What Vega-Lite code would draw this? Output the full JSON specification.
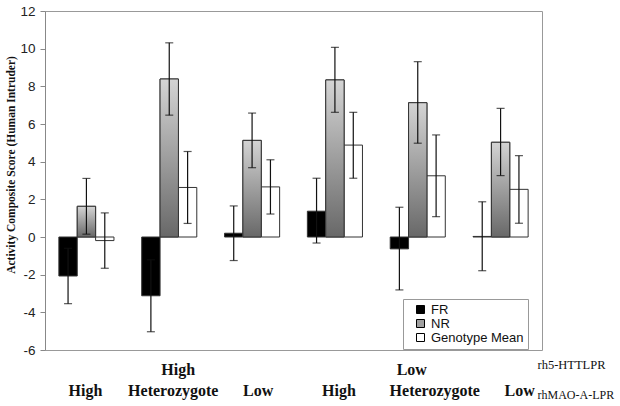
{
  "$schema": "https://vega.github.io/schema/vega-lite/v6.json",
  "width": 497,
  "height": 339,
  "autosize": {"type": "none"},
  "padding": {"left": 45, "top": 11, "right": 78, "bottom": 56},
  "background": "white",
  "config": {
    "view": {"stroke": "#999999", "strokeWidth": 1},
    "axis": {"grid": false}
  },
  "data": {"values": [
    {"group": "High-High", "series": "FR", "value": -2.07, "lo": -3.54, "hi": -0.6},
    {"group": "High-High", "series": "NR", "value": 1.63, "lo": 0.15, "hi": 3.11},
    {"group": "High-High", "series": "Genotype Mean", "value": -0.19, "lo": -1.66, "hi": 1.28},
    {"group": "High-Heterozygote", "series": "FR", "value": -3.12, "lo": -5.03, "hi": -1.21},
    {"group": "High-Heterozygote", "series": "NR", "value": 8.39, "lo": 6.47, "hi": 10.31},
    {"group": "High-Heterozygote", "series": "Genotype Mean", "value": 2.63, "lo": 0.72, "hi": 4.54},
    {"group": "High-Low", "series": "FR", "value": 0.2, "lo": -1.25, "hi": 1.65},
    {"group": "High-Low", "series": "NR", "value": 5.13, "lo": 3.68, "hi": 6.58},
    {"group": "High-Low", "series": "Genotype Mean", "value": 2.66, "lo": 1.22, "hi": 4.1},
    {"group": "Low-High", "series": "FR", "value": 1.37, "lo": -0.32, "hi": 3.12},
    {"group": "Low-High", "series": "NR", "value": 8.34, "lo": 6.62, "hi": 10.07},
    {"group": "Low-High", "series": "Genotype Mean", "value": 4.88, "lo": 3.12, "hi": 6.62},
    {"group": "Low-Heterozygote", "series": "FR", "value": -0.63, "lo": -2.81, "hi": 1.58},
    {"group": "Low-Heterozygote", "series": "NR", "value": 7.13, "lo": 4.98, "hi": 9.31},
    {"group": "Low-Heterozygote", "series": "Genotype Mean", "value": 3.25, "lo": 1.08, "hi": 5.42},
    {"group": "Low-Low", "series": "FR", "value": 0.03, "lo": -1.79, "hi": 1.87},
    {"group": "Low-Low", "series": "NR", "value": 5.03, "lo": 3.26, "hi": 6.83},
    {"group": "Low-Low", "series": "Genotype Mean", "value": 2.53, "lo": 0.73, "hi": 4.32}
  ]},
  "layer": [
    {
      "mark": {"type": "bar", "stroke": "#333333", "strokeWidth": 1},
      "encoding": {
        "x": {
          "field": "group", "type": "nominal",
          "scale": {"domain": ["High-High", "High-Heterozygote", "High-Low", "Low-High", "Low-Heterozygote", "Low-Low"], "paddingInner": 0.335, "paddingOuter": 0.1675},
          "axis": {
            "orient": "bottom", "domain": false, "ticks": false, "tickSize": 0,
            "labelPadding": 45, "labelBaseline": "alphabetic", "labelAngle": 0,
            "labelFont": "Liberation Serif", "labelFontSize": 16, "labelFontWeight": "bold", "labelColor": "#111111",
            "labelExpr": "split(datum.label, '-')[1]", "labelOverlap": false,
            "labelOffset": {"condition": [
              {"test": "datum.value == 'High-High'", "value": -1},
              {"test": "datum.value == 'High-Heterozygote'", "value": 4},
              {"test": "datum.value == 'High-Low'", "value": 6},
              {"test": "datum.value == 'Low-High'", "value": 4},
              {"test": "datum.value == 'Low-Heterozygote'", "value": 17},
              {"test": "datum.value == 'Low-Low'", "value": 19}
            ], "value": 0},
            "title": "rhMAO-A-LPR", "titleFont": "Liberation Serif", "titleFontSize": 12, "titleFontWeight": "normal", "titleColor": "#111111",
            "titleX": 492, "titleY": 48, "titleAlign": "left", "titleBaseline": "alphabetic"
          }
        },
        "xOffset": {"field": "series", "type": "nominal", "scale": {"domain": ["FR", "NR", "Genotype Mean"], "paddingInner": 0, "paddingOuter": 0}},
        "y": {
          "field": "value", "type": "quantitative",
          "scale": {"domain": [-6, 12], "nice": false, "zero": false},
          "axis": {
            "values": [-6, -4, -2, 0, 2, 4, 6, 8, 10, 12], "tickCount": 10,
            "labelExpr": "replace(format(datum.value, 'd'), '\u2212', '-')", "labelOverlap": false, "labelFlush": false,
            "labelFont": "Liberation Sans", "labelFontSize": 13.5, "labelColor": "#222222", "labelPadding": 5,
            "tickSize": 5, "tickColor": "#888888", "domainColor": "#888888",
            "title": "Activity Composite Score (Human Intruder)",
            "titleFont": "Liberation Serif", "titleFontSize": 11.5, "titleFontWeight": "bold", "titleColor": "#111111",
            "titleX": -34, "titleY": 153.5, "titleAngle": -90, "titleAlign": "center", "titleBaseline": "middle"
          }
        },
        "color": {
          "field": "series", "type": "nominal",
          "scale": {"domain": ["FR", "NR", "Genotype Mean"], "range": ["#000000", "#a0a0a0", "#ffffff"]},
          "legend": {
            "orient": "none", "legendX": 358, "legendY": 288, "title": null, "padding": 4,
            "strokeColor": "#999999", "fillColor": "#ffffff",
            "symbolType": "square", "symbolSize": 64, "symbolStrokeColor": "#000000", "symbolStrokeWidth": 1, "symbolOffset": 7,
            "labelFont": "Liberation Sans", "labelFontSize": 13, "labelColor": "#111111", "labelOffset": 4, "rowPadding": -1
          }
        }
      }
    },
    {
      "transform": [{"filter": "datum.series == 'NR'"}],
      "mark": {"type": "bar", "stroke": "#333333", "strokeWidth": 1, "fill": {"gradient": "linear", "x1": 0, "y1": 0, "x2": 0, "y2": 1, "stops": [{"offset": 0, "color": "#d4d4d4"}, {"offset": 1, "color": "#686868"}]}},
      "encoding": {
        "x": {"field": "group", "type": "nominal", "axis": null},
        "xOffset": {"field": "series", "type": "nominal"},
        "y": {"field": "value", "type": "quantitative", "title": "Activity Composite Score (Human Intruder)"}
      }
    },
    {
      "mark": {"type": "rule", "color": "#111111", "strokeWidth": 1.2},
      "encoding": {
        "x": {
          "field": "group", "type": "nominal",
          "axis": {
            "orient": "top", "domain": false, "ticks": false, "tickSize": 0,
            "labelPadding": -363, "labelBaseline": "alphabetic", "labelAngle": 0,
            "labelFont": "Liberation Serif", "labelFontSize": 16, "labelFontWeight": "bold", "labelColor": "#111111",
            "labelExpr": "datum.value == 'High-Heterozygote' ? 'High' : (datum.value == 'Low-Heterozygote' ? 'Low' : '')",
            "labelOverlap": false,
            "labelOffset": {"condition": [
              {"test": "datum.value == 'High-Heterozygote'", "value": 9},
              {"test": "datum.value == 'Low-Heterozygote'", "value": -6}
            ], "value": 0},
            "title": "rh5-HTTLPR", "titleFont": "Liberation Serif", "titleFontSize": 12.5, "titleFontWeight": "normal", "titleColor": "#111111",
            "titleX": 492, "titleY": 357.5, "titleAlign": "left", "titleBaseline": "alphabetic"
          }
        },
        "xOffset": {"field": "series", "type": "nominal"},
        "y": {"field": "lo", "type": "quantitative", "title": "Activity Composite Score (Human Intruder)"},
        "y2": {"field": "hi"}
      }
    },
    {
      "mark": {"type": "tick", "color": "#111111", "size": 8, "thickness": 1.2, "orient": "horizontal"},
      "encoding": {
        "x": {"field": "group", "type": "nominal", "axis": null},
        "xOffset": {"field": "series", "type": "nominal"},
        "y": {"field": "lo", "type": "quantitative", "title": "Activity Composite Score (Human Intruder)"}
      }
    },
    {
      "mark": {"type": "tick", "color": "#111111", "size": 8, "thickness": 1.2, "orient": "horizontal"},
      "encoding": {
        "x": {"field": "group", "type": "nominal", "axis": null},
        "xOffset": {"field": "series", "type": "nominal"},
        "y": {"field": "hi", "type": "quantitative", "title": "Activity Composite Score (Human Intruder)"}
      }
    }
  ],
  "resolve": {"axis": {"x": "independent"}}
}
